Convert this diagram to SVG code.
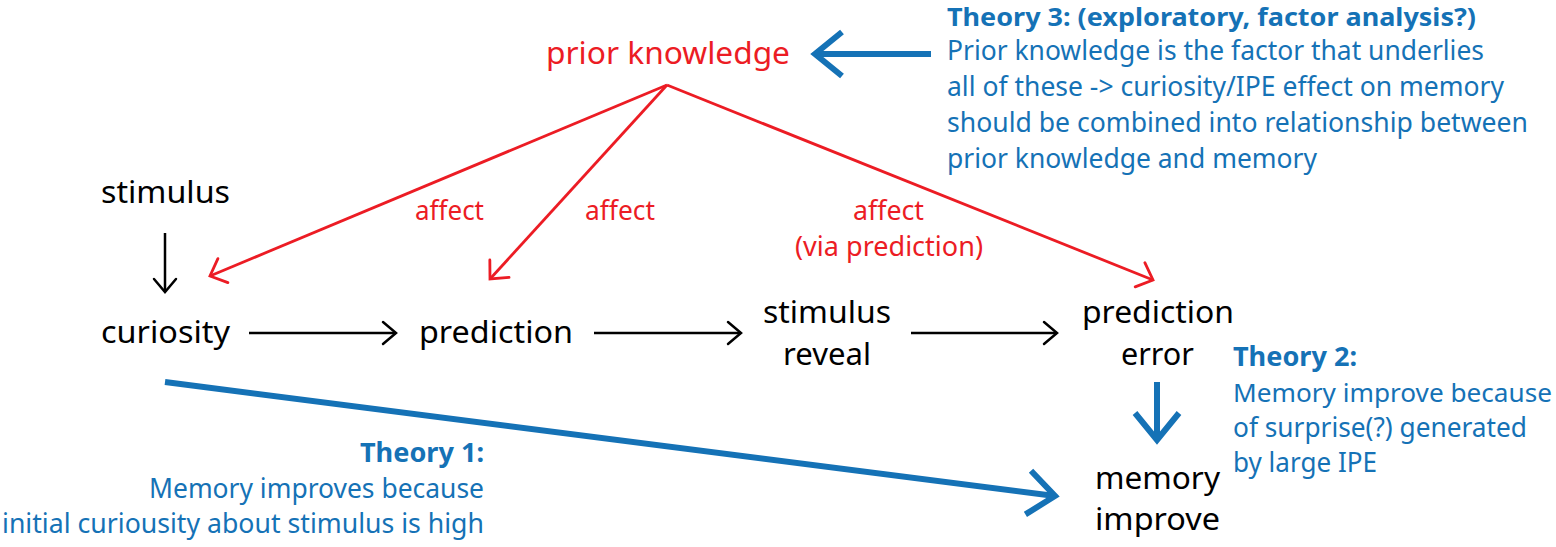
<svg xmlns="http://www.w3.org/2000/svg" width="1556" height="547" viewBox="0 0 1556 547">
<style>
text{font-family:"Noto Sans","Open Sans","DejaVu Sans",sans-serif;}
.n{font-size:31.5px;fill:#000;}
.r{font-size:31.5px;fill:#ec1c24;}
.rl{font-size:27px;fill:#ec1c24;}
.b{font-size:27px;fill:#1572b6;}
.bb{font-size:27px;fill:#1572b6;font-weight:bold;}
.ck{fill:none;stroke:#000;stroke-width:2.5;}
.cr{fill:none;stroke:#ec1c24;stroke-width:2.8;}
.cb{fill:none;stroke:#1572b6;stroke-width:6;}
</style>
<defs>
<marker id="mk" markerUnits="userSpaceOnUse" viewBox="-20 -20 24 40" refX="0" refY="0" markerWidth="24" markerHeight="40" orient="auto">
<path d="M-13,-11 L0,0 L-13,11" fill="none" stroke="#000" stroke-width="2.5" stroke-linecap="round"/>
</marker>
<marker id="mr" markerUnits="userSpaceOnUse" viewBox="-24 -24 28 48" refX="0" refY="0" markerWidth="28" markerHeight="48" orient="auto">
<path d="M-14,-13 L0,0 L-14,13" fill="none" stroke="#ec1c24" stroke-width="2.8" stroke-linecap="round"/>
</marker>
<marker id="mb" markerUnits="userSpaceOnUse" viewBox="-34 -30 40 60" refX="0" refY="0" markerWidth="40" markerHeight="60" orient="auto">
<path d="M-27,-22 L0,0 L-27,22" fill="none" stroke="#1572b6" stroke-width="6"/>
</marker>
</defs>

<g id="connectors">
<line class="ck" x1="165" y1="233" x2="165" y2="292" marker-end="url(#mk)"/>
<line class="ck" x1="249" y1="333" x2="396" y2="333" marker-end="url(#mk)"/>
<line class="ck" x1="594" y1="333" x2="741" y2="333" marker-end="url(#mk)"/>
<line class="ck" x1="911" y1="333" x2="1057" y2="333" marker-end="url(#mk)"/>
<line class="cr" x1="667" y1="85" x2="210" y2="276" marker-end="url(#mr)"/>
<line class="cr" x1="667" y1="85" x2="490" y2="279" marker-end="url(#mr)"/>
<line class="cr" x1="667" y1="85" x2="1153" y2="280" marker-end="url(#mr)"/>
<line class="cb" x1="931" y1="54" x2="815" y2="54" marker-end="url(#mb)"/>
<line class="cb" x1="1157" y1="382" x2="1157" y2="440" marker-end="url(#mb)"/>
<line class="cb" x1="165" y1="382" x2="1055" y2="496" marker-end="url(#mb)"/>
</g>

<g id="n-prior-knowledge"><text class="r" x="546" y="64" textLength="244" lengthAdjust="spacingAndGlyphs">prior knowledge</text></g>
<g id="n-stimulus"><text class="n" x="101" y="203" textLength="129" lengthAdjust="spacingAndGlyphs">stimulus</text></g>
<g id="n-curiosity"><text class="n" x="101" y="343" textLength="129" lengthAdjust="spacingAndGlyphs">curiosity</text></g>
<g id="n-prediction"><text class="n" x="419" y="343" textLength="154" lengthAdjust="spacingAndGlyphs">prediction</text></g>
<g id="n-stimulus-reveal">
<text class="n" x="763" y="323" textLength="128" lengthAdjust="spacingAndGlyphs">stimulus</text>
<text class="n" x="783" y="365" textLength="88" lengthAdjust="spacingAndGlyphs">reveal</text>
</g>
<g id="n-prediction-error">
<text class="n" x="1082" y="323" textLength="152" lengthAdjust="spacingAndGlyphs">prediction</text>
<text class="n" x="1121" y="365" textLength="73" lengthAdjust="spacingAndGlyphs">error</text>
</g>
<g id="n-memory-improve">
<text class="n" x="1095" y="489" textLength="125" lengthAdjust="spacingAndGlyphs">memory</text>
<text class="n" x="1095" y="530" textLength="125" lengthAdjust="spacingAndGlyphs">improve</text>
</g>

<g id="labels-affect">
<text class="rl" x="415" y="220" textLength="69" lengthAdjust="spacingAndGlyphs">affect</text>
<text class="rl" x="585" y="220" textLength="70" lengthAdjust="spacingAndGlyphs">affect</text>
<text class="rl" x="853" y="220" textLength="71" lengthAdjust="spacingAndGlyphs">affect</text>
<text class="rl" x="795" y="256" textLength="188" lengthAdjust="spacingAndGlyphs">(via prediction)</text>
</g>

<g id="theory3">
<text class="bb" x="947" y="26" style="font-size:25px" textLength="529" lengthAdjust="spacingAndGlyphs">Theory 3: (exploratory, factor analysis?)</text>
<text class="b" x="947" y="60" textLength="537" lengthAdjust="spacingAndGlyphs">Prior knowledge is the factor that underlies</text>
<text class="b" x="947" y="96" textLength="557" lengthAdjust="spacingAndGlyphs">all of these -&gt; curiosity/IPE effect on memory</text>
<text class="b" x="947" y="132" textLength="581" lengthAdjust="spacingAndGlyphs">should be combined into relationship between</text>
<text class="b" x="947" y="168" textLength="370" lengthAdjust="spacingAndGlyphs">prior knowledge and memory</text>
</g>

<g id="theory2">
<text class="bb" x="1233" y="366" textLength="124" lengthAdjust="spacingAndGlyphs">Theory 2:</text>
<text class="b" x="1233" y="402" style="font-size:26px" textLength="319" lengthAdjust="spacingAndGlyphs">Memory improve because</text>
<text class="b" x="1233" y="437" textLength="294" lengthAdjust="spacingAndGlyphs">of surprise(?) generated</text>
<text class="b" x="1233" y="472" textLength="144" lengthAdjust="spacingAndGlyphs">by large IPE</text>
</g>

<g id="theory1">
<text class="bb" x="484" y="462" text-anchor="end" textLength="124" lengthAdjust="spacingAndGlyphs">Theory 1:</text>
<text class="b" x="484" y="498" text-anchor="end" textLength="335" lengthAdjust="spacingAndGlyphs">Memory improves because</text>
<text class="b" x="484" y="533" text-anchor="end" textLength="482" lengthAdjust="spacingAndGlyphs">initial curiousity about stimulus is high</text>
</g>
</svg>
